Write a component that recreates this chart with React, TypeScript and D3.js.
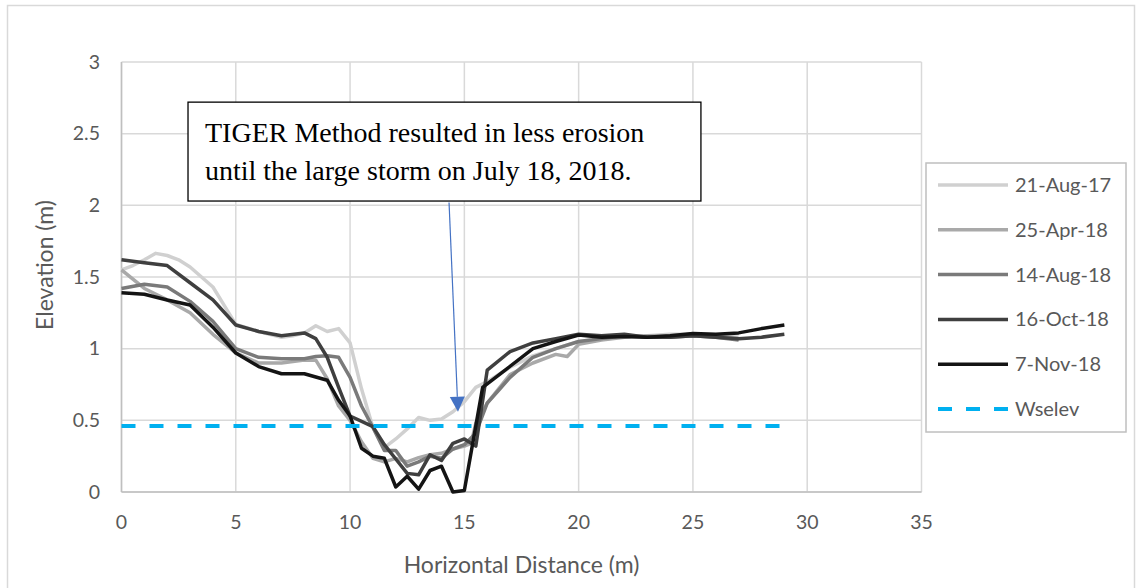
import React from "react";
import * as d3 from "d3";

type Pt = [number, number];

const aug17: Pt[] = [[0,1.55],[0.5,1.58],[1,1.62],[1.5,1.665],[2,1.65],[2.5,1.62],[3,1.57],[3.5,1.5],[4,1.43],[4.5,1.3],[5,1.17],[6,1.12],[7,1.08],[7.5,1.09],[8,1.11],[8.5,1.16],[9,1.12],[9.5,1.14],[10,1.04],[10.5,0.72],[11,0.45],[11.5,0.31],[12,0.37],[12.5,0.44],[13,0.52],[13.5,0.5],[14,0.51],[14.5,0.56],[15,0.63],[15.5,0.73],[16,0.77],[17,0.87],[18,0.95],[19,1.0],[20,1.05],[21,1.07],[22,1.09],[23,1.09],[24,1.1],[25,1.1],[26,1.09],[27,1.08]];
const apr18: Pt[] = [[0,1.55],[1,1.42],[2,1.34],[3,1.25],[4,1.1],[5,0.97],[6,0.9],[7,0.9],[8,0.92],[8.5,0.92],[9,0.79],[9.5,0.6],[10,0.5],[10.5,0.35],[11,0.235],[11.5,0.21],[12,0.235],[12.5,0.21],[13,0.24],[13.5,0.26],[14,0.27],[14.5,0.3],[15,0.32],[15.3,0.34],[15.5,0.48],[16,0.62],[17,0.82],[18,0.9],[19,0.96],[19.5,0.945],[20,1.03],[21,1.06],[22,1.08],[23,1.09],[24,1.09],[25,1.1],[26,1.09],[27,1.07]];
const aug18: Pt[] = [[0,1.42],[1,1.45],[2,1.43],[3,1.33],[4,1.19],[5,1.0],[6,0.94],[7,0.93],[8,0.93],[8.5,0.945],[9,0.95],[9.5,0.94],[10,0.8],[10.5,0.6],[11,0.45],[11.5,0.29],[12,0.29],[12.5,0.18],[13,0.21],[13.5,0.25],[14,0.235],[14.5,0.3],[15,0.33],[15.5,0.41],[16,0.62],[16.5,0.71],[17,0.8],[18,0.94],[19,1.0],[20,1.05],[21,1.07],[22,1.09],[23,1.08],[24,1.08],[25,1.09],[26,1.08],[27,1.06]];
const oct18: Pt[] = [[0,1.62],[1,1.6],[2,1.58],[3,1.46],[4,1.34],[5,1.165],[6,1.12],[7,1.09],[8,1.11],[8.5,1.07],[9,0.94],[9.5,0.73],[10,0.53],[11,0.456],[11.5,0.33],[12,0.23],[12.5,0.13],[13,0.12],[13.5,0.26],[14,0.22],[14.5,0.34],[15,0.37],[15.5,0.32],[16,0.85],[17,0.98],[18,1.04],[19,1.07],[20,1.1],[21,1.09],[22,1.1],[23,1.08],[24,1.08],[25,1.09],[26,1.08],[27,1.07],[28,1.08],[29,1.1]];
const nov18: Pt[] = [[0,1.39],[1,1.38],[2,1.34],[3,1.305],[4,1.15],[5,0.97],[6,0.875],[7,0.825],[8,0.825],[9,0.78],[9.5,0.64],[10,0.53],[10.5,0.305],[11,0.25],[11.5,0.235],[12,0.035],[12.5,0.11],[13,0.02],[13.5,0.15],[14,0.18],[14.5,0.0],[15,0.01],[15.8,0.73],[16.7,0.84],[18,1.0],[19,1.05],[20,1.095],[21,1.08],[22,1.085],[23,1.08],[24,1.09],[25,1.105],[26,1.1],[27,1.11],[28,1.14],[29,1.165]];
const wselev: Pt[] = [[0,0.46],[29,0.46]];

const seriesNames = ["21-Aug-17", "25-Apr-18", "14-Aug-18", "16-Oct-18", "7-Nov-18", "Wselev"];
const seriesData = [aug17, apr18, aug18, oct18, nov18, wselev];
const seriesColors = ["#D0D0D0", "#A9A9A9", "#7A7A7A", "#3F3F3F", "#141414", "#00B0F0"];

const xTicks = [0, 5, 10, 15, 20, 25, 30, 35];
const yTicks = [0, 0.5, 1, 1.5, 2, 2.5, 3];
const yTickLabels = ["0", "0.5", "1", "1.5", "2", "2.5", "3"];

const annotationLines = ["TIGER Method resulted in less erosion", "until the large storm on July 18, 2018."];
const annotationBox = { x0: 2.91, x1: 25.35, y0: 2.72, y1: 2.03 };
const arrowFrom: Pt = [14.33, 2.02];
const arrowTo: Pt = [14.72, 0.56];

export default function App() {
  const W = 1137, H = 588;
  const left = 121.5, right = 921.5, top = 62, bottom = 492;
  const x = d3.scaleLinear().domain([0, 35]).range([left, right]);
  const y = d3.scaleLinear().domain([0, 3]).range([bottom, top]);
  const line = d3.line<Pt>().x(d => x(d[0])).y(d => y(d[1]));
  const font = "Lato, 'Open Sans', sans-serif";
  const tc = "#595959";

  const ax0 = x(arrowFrom[0]), ay0 = y(arrowFrom[1]);
  const ax1 = x(arrowTo[0]), ay1 = y(arrowTo[1]);
  const ang = Math.atan2(ay1 - ay0, ax1 - ax0);
  const headLen = 15, headW = 7.5;
  const bx = ax1 - headLen * Math.cos(ang), by = ay1 - headLen * Math.sin(ang);
  const px = -Math.sin(ang), py = Math.cos(ang);
  const head = `M${ax1},${ay1}L${bx + px * headW},${by + py * headW}L${bx - px * headW},${by - py * headW}Z`;

  const legX = 926, legY = 163, legW = 200, legH = 269;
  const rowGap = 44.8;

  return (
    <svg width={W} height={H} style={{ position: "absolute", left: 0, top: 0, background: "#fff" }}>
      <rect x={7.5} y={5.5} width={1127} height={600} fill="#fff" stroke="#d9d9d9" strokeWidth={1.5} />
      {yTicks.map(t => (
        <line key={"gy" + t} x1={left} x2={right} y1={y(t)} y2={y(t)} stroke="#d9d9d9" strokeWidth={1.5} />
      ))}
      {xTicks.map(t => (
        <line key={"gx" + t} x1={x(t)} x2={x(t)} y1={top} y2={bottom} stroke="#d9d9d9" strokeWidth={1.5} />
      ))}
      <line x1={left} x2={left} y1={top} y2={bottom} stroke="#bfbfbf" strokeWidth={1.5} />
      <line x1={left} x2={right} y1={bottom} y2={bottom} stroke="#bfbfbf" strokeWidth={1.5} />
      {yTicks.map((t, i) => (
        <text key={"ty" + t} x={100} y={y(t)} dy="0.35em" textAnchor="end" fontFamily={font} fontSize={19.5} fill={tc}>{yTickLabels[i]}</text>
      ))}
      {xTicks.map(t => (
        <text key={"tx" + t} x={x(t)} y={522} dy="0.35em" textAnchor="middle" fontFamily={font} fontSize={19.5} fill={tc}>{t}</text>
      ))}
      <text x={(left + right) / 2} y={565} dy="0.35em" textAnchor="middle" fontFamily={font} fontSize={23} fill={tc}>Horizontal Distance (m)</text>
      <text transform={`translate(45,265) rotate(-90)`} dy="0.35em" textAnchor="middle" fontFamily={font} fontSize={23} fill={tc}>Elevation (m)</text>
      {seriesData.map((d, i) => (
        <path key={seriesNames[i]} d={line(d) || ""} fill="none" stroke={seriesColors[i]} strokeWidth={i === 5 ? 4 : 3.5}
          strokeDasharray={i === 5 ? "14 14" : undefined} strokeLinejoin="round" />
      ))}
      <rect x={x(annotationBox.x0)} y={y(annotationBox.y0)} width={x(annotationBox.x1) - x(annotationBox.x0)} height={y(annotationBox.y1) - y(annotationBox.y0)}
        fill="#fff" stroke="#000" strokeWidth={1.3} />
      {annotationLines.map((s, i) => (
        <text key={s} x={x(annotationBox.x0) + 17} y={y(annotationBox.y0) + 40 + i * 38} fontFamily="'Liberation Serif', 'Times New Roman', serif" fontSize={28} fill="#000">{s}</text>
      ))}
      <line x1={ax0} y1={ay0} x2={bx} y2={by} stroke="#4472C4" strokeWidth={1.2} />
      <path d={head} fill="#4472C4" />
      <rect x={legX} y={legY} width={legW} height={legH} fill="#fff" stroke="#bfbfbf" strokeWidth={1.5} />
      {seriesNames.map((n, i) => {
        const cy = legY + 22 + i * rowGap;
        return (
          <g key={"lg" + n}>
            <line x1={938} x2={1008} y1={cy} y2={cy} stroke={seriesColors[i]} strokeWidth={i === 5 ? 4 : 3.5}
              strokeDasharray={i === 5 ? "14 14" : undefined} />
            <text x={1015} y={cy} dy="0.35em" fontFamily={font} fontSize={20} fill={tc}>{n}</text>
          </g>
        );
      })}
    </svg>
  );
}
